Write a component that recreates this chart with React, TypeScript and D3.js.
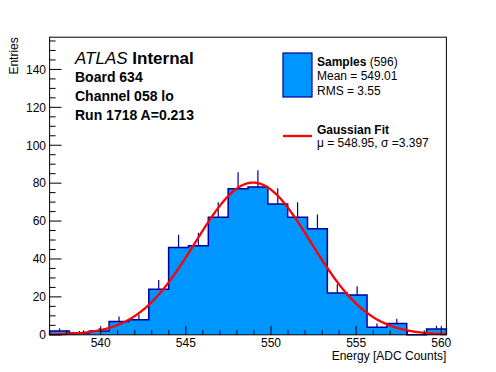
import React from "react";
import * as d3 from "d3";

const W = 496;
const H = 372;

// histogram range + bin contents (20 bins)
const xRange = [537, 560.3];
const counts = [2, 1, 2, 7, 8, 24, 46, 47, 62, 77, 78, 69, 62, 56, 22, 21, 4, 6, 0, 3];
const yMax = 157;

const xTicks = [540, 545, 550, 555, 560];
const yTicks = [0, 20, 40, 60, 80, 100, 120, 140];

// gaussian fit
const fitConstant = 80.3;
const fitMean = 548.95;
const fitSigma = 3.397;

const infoLines = ["Board 634", "Channel 058 lo", "Run 1718 A=0.213"];

const FONT = "'Liberation Sans', Arial, Helvetica, sans-serif";
const FILL = "#0096ff";
const EDGE = "#000099";

export default function App() {
  const margin = { left: 49.6, right: 49.6, top: 37.2, bottom: 37.2 };
  const x = d3.scaleLinear().domain(xRange).range([margin.left, W - margin.right]);
  const y = d3.scaleLinear().domain([0, yMax]).range([H - margin.bottom, margin.top]);
  const x0 = margin.left, x1 = W - margin.right;
  const y0 = H - margin.bottom, y1 = margin.top;

  const binW = (xRange[1] - xRange[0]) / counts.length;
  const lo = (i: number) => xRange[0] + i * binW;

  let step = `M${x(xRange[0])},${y(0)}`;
  counts.forEach((c, i) => {
    step += `L${x(lo(i))},${y(c)}L${x(lo(i + 1))},${y(c)}`;
  });
  step += `L${x(xRange[1])},${y(0)}`;

  const gauss = (v: number) =>
    fitConstant * Math.exp(-((v - fitMean) ** 2) / (2 * fitSigma * fitSigma));
  const curve = d3
    .line<number>()
    .x((v) => x(v))
    .y((v) => y(gauss(v)))(d3.range(xRange[0], xRange[1] + 0.001, 0.05));

  const xMinor = d3.range(537, 561, 1);
  const yMinor = d3.range(0, yMax, 5);

  return (
    <svg
      width={W}
      height={H}
      style={{ position: "absolute", left: 0, top: 0, background: "#fff" }}
      fontFamily={FONT}
    >
      <rect x={0} y={0} width={W} height={H} fill="#fff" />
      {/* histogram */}
      <path d={step + "Z"} fill={FILL} stroke="none" />
      {counts.map((c, i) =>
        c > 0 ? (
          <line
            key={"e" + i}
            x1={x(lo(i) + binW / 2)}
            x2={x(lo(i) + binW / 2)}
            y1={y(c)}
            y2={y(c + Math.sqrt(c))}
            stroke={EDGE}
            strokeWidth={1.2}
          />
        ) : null
      )}
      <path d={step} fill="none" stroke={EDGE} strokeWidth={1.5} />
      {/* fit */}
      <path d={curve || ""} fill="none" stroke="#ff0000" strokeWidth={2.3} />

      {/* axes ticks */}
      {xMinor.map((t) => (
        <line
          key={"xm" + t}
          x1={x(t)}
          x2={x(t)}
          y1={y0}
          y2={y0 - (xTicks.includes(t) ? 8.9 : 4.5)}
          stroke="#000"
          strokeWidth={1}
        />
      ))}
      {yMinor.map((t) => (
        <line
          key={"ym" + t}
          x1={x0}
          x2={x0 + (yTicks.includes(t) ? 11.9 : 6)}
          y1={y(t)}
          y2={y(t)}
          stroke="#000"
          strokeWidth={1}
        />
      ))}
      {xTicks.map((t) => (
        <text key={"xl" + t} x={x(t)} y={346.5} fontSize={12} textAnchor="middle">
          {t}
        </text>
      ))}
      {yTicks.map((t) => (
        <text key={"yl" + t} x={46} y={y(t) + 4.3} fontSize={12} textAnchor="end">
          {t}
        </text>
      ))}
      <rect x={x0} y={y1} width={x1 - x0} height={y0 - y1} fill="none" stroke="#000" strokeWidth={1} />

      {/* axis titles */}
      <text x={x1} y={360} fontSize={12} textAnchor="end">
        Energy [ADC Counts]
      </text>
      <text
        transform={`translate(17.5,${y1}) rotate(-90)`}
        fontSize={12}
        textAnchor="end"
      >
        Entries
      </text>

      {/* ATLAS label */}
      <text x={75} y={64} fontSize={17}>
        <tspan fontStyle="italic">ATLAS</tspan>
        <tspan fontWeight="bold"> Internal</tspan>
      </text>
      {infoLines.map((s, i) => (
        <text key={s} x={75} y={82 + i * 19} fontSize={14} fontWeight="bold">
          {s}
        </text>
      ))}

      {/* legend */}
      <rect x={283} y={53} width={29} height={44} fill={FILL} stroke={EDGE} strokeWidth={1.2} />
      <text x={317} y={65.5} fontSize={12}>
        <tspan fontWeight="bold">Samples</tspan>
        <tspan> (596)</tspan>
      </text>
      <text x={317} y={80} fontSize={12}>
        Mean = 549.01
      </text>
      <text x={317} y={94.5} fontSize={12}>
        RMS = 3.55
      </text>
      <line x1={283} x2={312} y1={136} y2={136} stroke="#ff0000" strokeWidth={2.3} />
      <text x={317} y={133.5} fontSize={12} fontWeight="bold">
        Gaussian Fit
      </text>
      <text x={317} y={147} fontSize={12}>
        μ = 548.95, σ =3.397
      </text>
    </svg>
  );
}
